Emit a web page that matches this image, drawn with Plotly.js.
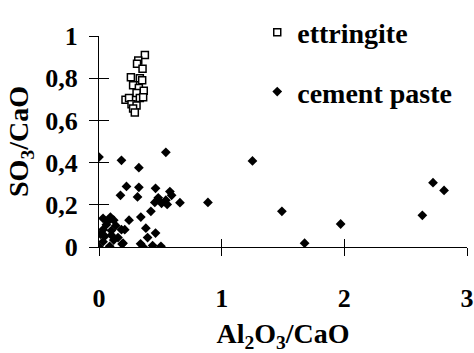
<!DOCTYPE html>
<html>
<head>
<meta charset="utf-8">
<script src="https://cdn.plot.ly/plotly-3.0.1.min.js"></script>
<style>html,body{margin:0;padding:0;background:#fff;}#chart{width:474px;height:353px;}</style>
</head>
<body>
<div id="chart"></div>
<script>
// ettringite (open squares)
var ettX = [0.374, 0.32, 0.31, 0.355, 0.26, 0.333, 0.352, 0.278, 0.325, 0.365, 0.306, 0.216, 0.245, 0.333, 0.265, 0.306, 0.278, 0.292, 0.36];
var ettY = [0.91, 0.884, 0.868, 0.845, 0.804, 0.80, 0.79, 0.766, 0.754, 0.74, 0.73, 0.698, 0.706, 0.706, 0.676, 0.671, 0.656, 0.638, 0.71];
// cement paste (filled diamonds)
var pasteX = [0, 0.183, 0.545, 0.325, 0.224, 0.325, 0.461, 0.175, 0.314, 0.578, 0.592, 0.483, 0.545, 0.455, 0.51, 0.556, 0.66, 0.888,
  0.423, 0.341, 0.245, 0.382, 0.21, 0.461, 0.396, 0.188, 0.339, 0.36, 0.437, 0.505, 0.087, 0,
  0.033, 0.093, 0.12, 0.06, 0.137, 0.033, 0.101, 0.183, 0.047, 0.101, 0.155, 0.033, 0.12, 0.196, 0.07, 0.015,
  1.251, 1.491, 1.676, 1.97, 2.636, 2.723, 2.813];
var pasteY = [0.426, 0.411, 0.449, 0.376, 0.287, 0.283, 0.278, 0.245, 0.237, 0.263, 0.245, 0.233, 0.222, 0.211, 0.207, 0.202, 0.21, 0.211,
  0.169, 0.142, 0.127, 0.089, 0.082, 0.066, 0.045, 0.014, 0.015, 0, 0.007, 0.003, 0.003, 0,
  0.136, 0.142, 0.127, 0.106, 0.101, 0.082, 0.078, 0.082, 0.051, 0.056, 0.045, 0.025, 0.033, 0.018, 0.12, 0.06,
  0.408, 0.169, 0.018, 0.109, 0.15, 0.305, 0.268];
var seriesNames = ['ettringite', 'cement paste'];
var xTicks = [0, 1, 2, 3];
var xTickText = ['0', '1', '2', '3'];
var yTicks = [0, 0.2, 0.4, 0.6, 0.8, 1];
var yTickText = ['0', '0,2', '0,4', '0,6', '0,8', '1'];
var xTitle = 'Al<sub>2</sub>O<sub>3</sub>/CaO';
var yTitle = 'SO<sub>3</sub>/CaO';

var FONT = 'Liberation Serif';
function b(s) { return '<b>' + s + '</b>'; }

var traces = [
  {x: ettX, y: ettY, name: b(seriesNames[0]), type: 'scatter', mode: 'markers', legendgroup: 'a',
   marker: {symbol: 'square', size: 7, color: '#ffffff', line: {color: '#000', width: 1.5}}},
  {x: pasteX, y: pasteY, name: b(seriesNames[1]), type: 'scatter', mode: 'markers', legendgroup: 'b',
   marker: {symbol: 'diamond', size: 7.5, color: '#000', line: {color: '#000', width: 0}}}
];

var layout = {
  width: 474, height: 353,
  margin: {l: 99, r: 7, t: 27, b: 106},
  paper_bgcolor: '#fff', plot_bgcolor: '#fff',
  font: {family: FONT, color: '#000', size: 26},
  showlegend: true,
  legend: {x: 0.43, y: 1.135, xanchor: 'left', yanchor: 'top', tracegroupgap: 20, bgcolor: 'rgba(0,0,0,0)',
           font: {family: FONT, size: 28, color: '#000'}},
  xaxis: {range: [0, 3], tickvals: xTicks, ticktext: xTickText.map(b), ticks: 'outside', ticklen: 8, tickwidth: 1, tickcolor: '#000',
          showline: true, linecolor: '#000', linewidth: 1, showgrid: false, zeroline: false,
          ticklabelstandoff: 20, tickfont: {family: FONT, size: 26, color: '#000'},
          title: {text: b(xTitle), standoff: 12, font: {family: FONT, size: 28, color: '#000'}}},
  yaxis: {range: [0, 1], tickvals: yTicks, ticktext: yTickText.map(b), ticks: 'outside', ticklen: 9, tickwidth: 1, tickcolor: '#000',
          showline: true, linecolor: '#000', linewidth: 1, showgrid: false, zeroline: false,
          ticklabelstandoff: 6, tickfont: {family: FONT, size: 26, color: '#000'},
          title: {text: b(yTitle), standoff: 8, font: {family: FONT, size: 28, color: '#000'}}},
  xaxis2: {overlaying: 'x', matches: 'x', range: [0, 3], tickvals: xTicks, ticks: 'inside', ticklen: 8, tickwidth: 1,
           tickcolor: '#000', showticklabels: false, showgrid: false, zeroline: false, showline: false, side: 'bottom'},
  yaxis2: {overlaying: 'y', matches: 'y', range: [0, 1], tickvals: yTicks, ticks: 'inside', ticklen: 10, tickwidth: 1,
           tickcolor: '#000', showticklabels: false, showgrid: false, zeroline: false, showline: false, side: 'left'}
};

// invisible helper trace so the overlay axes (inner tick halves) are drawn
traces.push({x: [], y: [], xaxis: 'x2', yaxis: 'y2', type: 'scatter', mode: 'markers', showlegend: false, hoverinfo: 'skip'});

Plotly.newPlot('chart', traces, layout, {staticPlot: true});
</script>
</body>
</html>
